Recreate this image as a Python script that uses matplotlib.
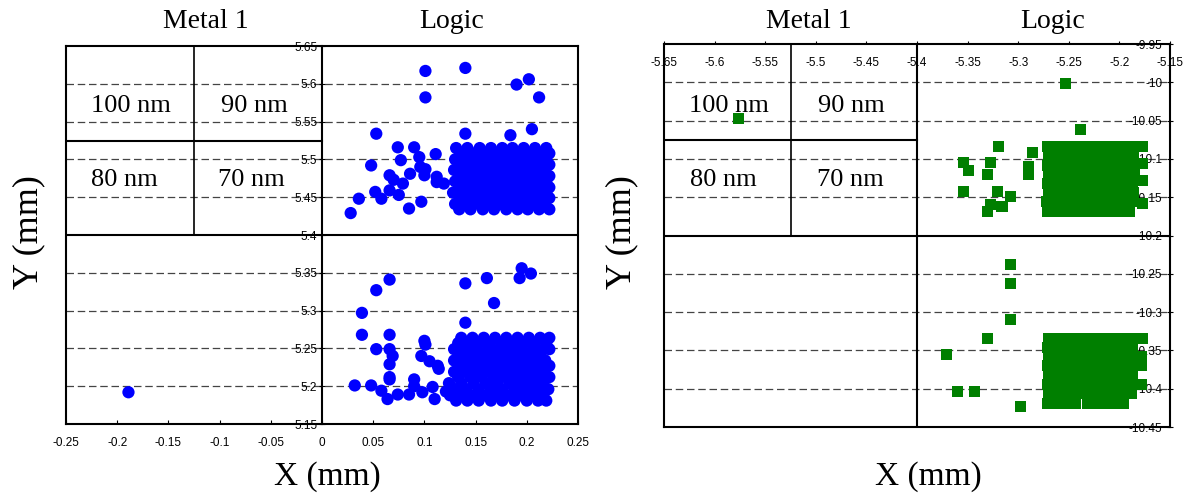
import numpy as np
import matplotlib.pyplot as plt
from matplotlib.ticker import FuncFormatter

# ---- left chart (Metal 1 / Logic, blue) ----
left_scatter_x = [0.101, 0.140, 0.190, 0.202, 0.212, 0.101, 0.053, 0.140, 0.184, 0.205,
                  0.074, 0.090, 0.111, 0.048, 0.077, 0.095, 0.096, 0.101, 0.100, 0.066,
                  0.070, 0.079, 0.086, 0.112, 0.112, 0.119, 0.066, 0.052, 0.075, 0.058,
                  0.036, 0.028, 0.085, 0.097,
                  -0.189, 0.195, 0.204, 0.193, 0.161, 0.066, 0.140, 0.053, 0.168, 0.039,
                  0.140, 0.039, 0.066, 0.100, 0.101, 0.053, 0.066, 0.069, 0.097, 0.105,
                  0.066, 0.113, 0.114, 0.066, 0.066, 0.090, 0.032, 0.048, 0.108, 0.058,
                  0.090, 0.098, 0.074, 0.085, 0.064, 0.110, 0.121]
left_scatter_y = [5.617, 5.621, 5.599, 5.606, 5.582, 5.582, 5.534, 5.534, 5.532, 5.540,
                  5.516, 5.516, 5.507, 5.492, 5.499, 5.503, 5.490, 5.487, 5.479, 5.479,
                  5.473, 5.468, 5.481, 5.477, 5.470, 5.468, 5.459, 5.457, 5.453, 5.448,
                  5.448, 5.429, 5.435, 5.444,
                  5.192, 5.356, 5.349, 5.343, 5.343, 5.341, 5.336, 5.327, 5.310, 5.297,
                  5.284, 5.268, 5.268, 5.260, 5.255, 5.249, 5.249, 5.240, 5.240, 5.233,
                  5.229, 5.227, 5.223, 5.212, 5.209, 5.209, 5.201, 5.201, 5.199, 5.194,
                  5.200, 5.192, 5.189, 5.189, 5.183, 5.183, 5.193]

# dense blocks: one y per row, x positions of that row
left_top_rows_y = [5.515, 5.508, 5.500, 5.493, 5.486, 5.478, 5.471, 5.463, 5.456, 5.449, 5.441, 5.434]
left_top_rows_x = [
    [0.131, 0.142, 0.154, 0.165, 0.176, 0.186, 0.197, 0.208, 0.219],
    [0.135, 0.147, 0.158, 0.169, 0.180, 0.191, 0.202, 0.213, 0.222],
    [0.130, 0.141, 0.152, 0.164, 0.175, 0.185, 0.196, 0.207, 0.219],
    [0.136, 0.146, 0.157, 0.168, 0.179, 0.190, 0.201, 0.212, 0.222],
    [0.129, 0.141, 0.153, 0.163, 0.174, 0.186, 0.197, 0.208, 0.218],
    [0.135, 0.147, 0.158, 0.169, 0.180, 0.190, 0.202, 0.213, 0.222],
    [0.130, 0.142, 0.152, 0.164, 0.175, 0.185, 0.196, 0.207, 0.219],
    [0.134, 0.146, 0.157, 0.168, 0.180, 0.191, 0.201, 0.212, 0.222],
    [0.128, 0.140, 0.153, 0.163, 0.174, 0.186, 0.197, 0.208, 0.219],
    [0.135, 0.147, 0.158, 0.169, 0.179, 0.190, 0.202, 0.213, 0.222],
    [0.130, 0.141, 0.153, 0.164, 0.175, 0.186, 0.197, 0.207, 0.218],
    [0.134, 0.145, 0.157, 0.168, 0.180, 0.191, 0.201, 0.212, 0.222],
]
left_bot_rows_y = [5.264, 5.257, 5.249, 5.242, 5.234, 5.227, 5.219, 5.212, 5.204, 5.196, 5.188, 5.181]
left_bot_rows_x = [
    [0.136, 0.147, 0.158, 0.169, 0.180, 0.191, 0.202, 0.213, 0.222],
    [0.133, 0.143, 0.153, 0.164, 0.175, 0.186, 0.197, 0.208, 0.219],
    [0.129, 0.140, 0.151, 0.162, 0.173, 0.184, 0.195, 0.206, 0.217, 0.222],
    [0.134, 0.146, 0.157, 0.168, 0.179, 0.190, 0.201, 0.212],
    [0.129, 0.140, 0.152, 0.163, 0.174, 0.186, 0.197, 0.207, 0.218],
    [0.134, 0.145, 0.157, 0.168, 0.179, 0.190, 0.201, 0.212, 0.222],
    [0.129, 0.140, 0.151, 0.163, 0.174, 0.185, 0.196, 0.206, 0.217],
    [0.133, 0.145, 0.156, 0.168, 0.179, 0.190, 0.201, 0.212, 0.222],
    [0.124, 0.136, 0.148, 0.160, 0.171, 0.183, 0.194, 0.205, 0.216],
    [0.130, 0.141, 0.153, 0.165, 0.176, 0.188, 0.199, 0.210, 0.221],
    [0.125, 0.136, 0.148, 0.159, 0.171, 0.182, 0.193, 0.205, 0.216],
    [0.131, 0.142, 0.153, 0.165, 0.176, 0.188, 0.200, 0.211, 0.219],
]

# ---- right chart (green squares) ----
right_scatter_x = [-5.576, -5.253, -5.238, -5.319, -5.286, -5.354, -5.327, -5.349, -5.330,
                   -5.290, -5.290, -5.354, -5.320, -5.308, -5.327, -5.316, -5.330,
                   -5.177, -5.177, -5.177, -5.177,
                   -5.308, -5.308, -5.308, -5.330, -5.371, -5.360, -5.343, -5.298]
right_scatter_y = [-10.047, -10.002, -10.061, -10.084, -10.092, -10.105, -10.105, -10.115, -10.120,
                   -10.110, -10.120, -10.143, -10.143, -10.149, -10.160, -10.162, -10.169,
                   -10.084, -10.106, -10.128, -10.158,
                   -10.238, -10.263, -10.310, -10.335, -10.355, -10.404, -10.404, -10.423]

right_top_rows_y = [-10.084, -10.096, -10.108, -10.120, -10.132, -10.144, -10.156, -10.169]
right_top_rows_x = [
    [-5.271, -5.262, -5.252, -5.243, -5.233, -5.224, -5.214, -5.205, -5.196, -5.188],
    [-5.270, -5.261, -5.252, -5.242, -5.233, -5.223, -5.214, -5.204, -5.195, -5.186],
    [-5.271, -5.262, -5.253, -5.243, -5.234, -5.224, -5.215, -5.205, -5.196, -5.186],
    [-5.270, -5.261, -5.252, -5.242, -5.233, -5.223, -5.214, -5.205, -5.195, -5.185],
    [-5.271, -5.262, -5.252, -5.243, -5.233, -5.224, -5.214, -5.204, -5.196, -5.187],
    [-5.270, -5.261, -5.252, -5.242, -5.233, -5.224, -5.215, -5.205, -5.195, -5.186],
    [-5.272, -5.262, -5.253, -5.243, -5.234, -5.224, -5.214, -5.205, -5.196, -5.188],
    [-5.271, -5.261, -5.252, -5.242, -5.233, -5.223, -5.214, -5.204, -5.196, -5.190],
]
right_bot_rows_y = [-10.334, -10.346, -10.358, -10.370, -10.382, -10.394, -10.406, -10.419]
right_bot_rows_x = [
    [-5.270, -5.261, -5.252, -5.242, -5.233, -5.223, -5.214, -5.204, -5.195, -5.186, -5.177],
    [-5.271, -5.262, -5.252, -5.243, -5.233, -5.224, -5.214, -5.205, -5.196, -5.187],
    [-5.270, -5.261, -5.251, -5.242, -5.232, -5.223, -5.214, -5.204, -5.195, -5.186, -5.178],
    [-5.271, -5.262, -5.252, -5.243, -5.233, -5.224, -5.215, -5.205, -5.196, -5.186, -5.178],
    [-5.270, -5.261, -5.252, -5.242, -5.233, -5.223, -5.214, -5.204, -5.195, -5.187],
    [-5.271, -5.262, -5.252, -5.243, -5.233, -5.224, -5.215, -5.205, -5.196, -5.186, -5.178],
    [-5.270, -5.261, -5.252, -5.242, -5.233, -5.223, -5.214, -5.204, -5.195, -5.188],
    [-5.271, -5.262, -5.252, -5.243, -5.232, -5.222, -5.213, -5.204, -5.196],
]

left_xticks = [-0.25, -0.2, -0.15, -0.1, -0.05, 0, 0.05, 0.1, 0.15, 0.2, 0.25]
left_yticks = [5.15, 5.2, 5.25, 5.3, 5.35, 5.4, 5.45, 5.5, 5.55, 5.6, 5.65]
right_xticks = [-5.65, -5.6, -5.55, -5.5, -5.45, -5.4, -5.35, -5.3, -5.25, -5.2, -5.15]
right_yticks = [-9.95, -10, -10.05, -10.1, -10.15, -10.2, -10.25, -10.3, -10.35, -10.4, -10.45]
cell_labels = ['100 nm', '90 nm', '80 nm', '70 nm']


def flatten(rows_y, rows_x):
    xs, ys = [], []
    for y, row in zip(rows_y, rows_x):
        xs += row
        ys += [y] * len(row)
    return xs, ys


serif = 'Liberation Serif'
plt.rcParams['font.family'] = 'Liberation Sans'
fmt = FuncFormatter(lambda v, p: '%g' % round(v, 3))

fig = plt.figure(figsize=(11.86, 4.94), dpi=100)

# ---------------- left panel ----------------
ax = fig.add_axes([66 / 1186, 70 / 494, 512 / 1186, 378 / 494])
ax.set_xlim(-0.25, 0.25)
ax.set_ylim(5.15, 5.65)
for y in left_yticks[1:-1]:
    if y != 5.4:
        ax.axhline(y, color='#444444', lw=0.9, dashes=(6, 3), zorder=1)
ax.spines['left'].set_position(('data', 0))
for s in ax.spines.values():
    s.set_linewidth(1.5)
ax.axvline(-0.25, color='k', lw=1.5, clip_on=False)
ax.axhline(5.4, color='k', lw=1.5)
ax.plot([-0.125, -0.125], [5.4, 5.65], color='k', lw=1.2)
ax.plot([-0.25, 0], [5.525, 5.525], color='k', lw=1.5)
ax.set_xticks(left_xticks)
ax.set_yticks(left_yticks)
ax.xaxis.set_major_formatter(fmt)
ax.yaxis.set_major_formatter(fmt)
ax.tick_params(axis='x', direction='in', length=3, pad=9, labelsize=8.5)
ax.tick_params(axis='y', direction='inout', length=5, pad=1, labelsize=8.5)

for xs, ys in [(left_scatter_x, left_scatter_y),
               flatten(left_top_rows_y, left_top_rows_x),
               flatten(left_bot_rows_y, left_bot_rows_x)]:
    ax.scatter(xs, ys, s=78, color='#0000ff', edgecolors='none', zorder=3)

for (tx, ty), lab in zip([(-0.187, 5.571), (-0.066, 5.571), (-0.193, 5.473), (-0.069, 5.473)], cell_labels):
    ax.text(tx, ty, lab, family=serif, fontsize=19, ha='center', va='center')

# ---------------- right panel ----------------
ax2 = fig.add_axes([664 / 1186, 67 / 494, 506 / 1186, 383 / 494])
ax2.set_xlim(-5.65, -5.15)
ax2.set_ylim(-10.45, -9.95)
for y in right_yticks[1:-1]:
    if y != -10.2:
        ax2.axhline(y, color='#444444', lw=0.9, dashes=(6, 3), zorder=1)
for s in ax2.spines.values():
    s.set_linewidth(1.5)
ax2.axvline(-5.4, color='k', lw=1.5)
ax2.axhline(-10.2, color='k', lw=1.5)
ax2.plot([-5.525, -5.525], [-10.2, -9.95], color='k', lw=1.2)
ax2.plot([-5.65, -5.4], [-10.075, -10.075], color='k', lw=1.5)
ax2.xaxis.tick_top()
ax2.yaxis.tick_right()
ax2.set_xticks(right_xticks)
ax2.set_yticks(right_yticks)
ax2.xaxis.set_major_formatter(fmt)
ax2.yaxis.set_major_formatter(fmt)
ax2.tick_params(axis='x', direction='out', length=2, pad=-11, labelsize=8.5)
ax2.tick_params(axis='y', direction='inout', length=5, pad=-8, labelsize=8.5)
for lbl in ax2.get_xticklabels():
    lbl.set_va('top')
for lbl in ax2.get_yticklabels():
    lbl.set_ha('right')

for xs, ys in [(right_scatter_x, right_scatter_y),
               flatten(right_top_rows_y, right_top_rows_x),
               flatten(right_bot_rows_y, right_bot_rows_x)]:
    ax2.scatter(xs, ys, s=63, marker='s', color='#007f00', edgecolors='none', zorder=3)

for (tx, ty), lab in zip([(-5.586, -10.031), (-5.465, -10.031), (-5.591, -10.128), (-5.466, -10.128)], cell_labels):
    ax2.text(tx, ty, lab, family=serif, fontsize=19, ha='center', va='center')

# ---------------- titles and axis labels ----------------
W, H = 1186.0, 494.0
for x, y, t in [(206, 22, 'Metal 1'), (452, 22, 'Logic'), (809, 21, 'Metal 1'), (1053, 21, 'Logic')]:
    fig.text(x / W, 1 - y / H, t, family=serif, fontsize=20, ha='center', va='center')
for x in [29, 622]:
    fig.text(x / W, 1 - 232 / H, 'Y (mm)', family=serif, fontsize=26, rotation=90, ha='center', va='center')
for x in [327, 928]:
    fig.text(x / W, 1 - 477 / H, 'X (mm)', family=serif, fontsize=24, ha='center', va='center')

fig.savefig('out.png', dpi=100)
